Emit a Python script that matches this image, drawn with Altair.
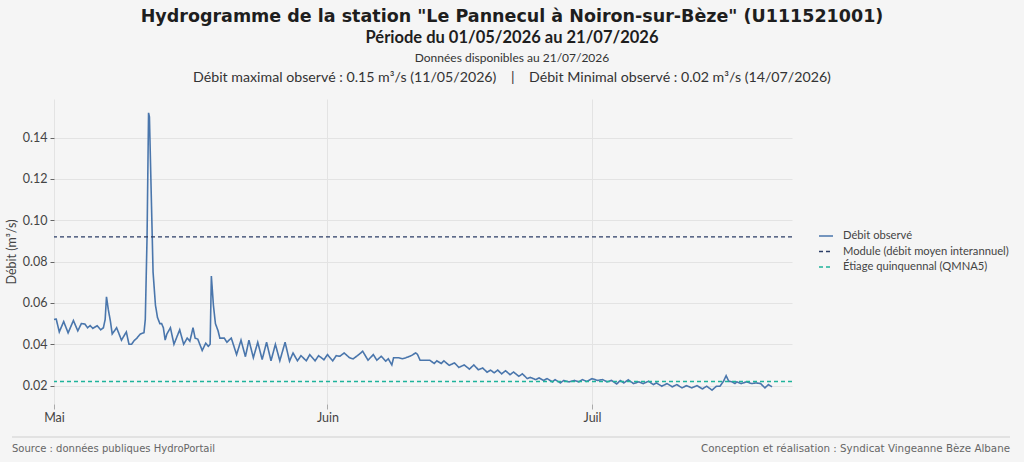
import altair as alt
import pandas as pd

# ---- data (day offset from 2026-05-01 00:00, discharge m3/s)
days = [0.0, 0.25, 0.6, 1.1, 1.6, 2.2, 2.7, 3.1, 3.5, 3.8, 4.1, 4.4, 4.9, 5.3, 5.6, 5.8, 5.95,
        6.15, 6.4, 6.6, 7.1, 7.65, 8.2, 8.5, 8.8, 9.05, 9.4, 9.8, 10.2, 10.35, 10.55, 10.72,
        10.82, 11.05, 11.23, 11.5, 11.73, 12.0, 12.2, 12.4, 12.6, 12.8, 13.2, 13.6, 14.25,
        14.7, 15.1, 15.4, 15.6, 15.76, 16.0, 16.3, 16.8, 17.2, 17.5, 17.7, 17.84, 18.07, 18.3,
        18.6, 18.8, 19.3, 19.6, 20.1, 20.7, 21.2, 21.7, 22.1, 22.6, 23.1, 23.6, 24.1, 24.6,
        25.1, 25.6, 26.2, 26.7, 27.1, 27.6, 28.0, 28.6, 29.0, 29.6, 30.0, 30.6, 31.0, 31.6,
        32.0, 32.4, 32.9, 33.5, 33.9, 34.4, 35.0, 35.6, 36.2, 36.6, 37.1, 37.6, 37.9, 38.3,
        38.5, 39.1, 39.5, 39.9, 40.5, 41.0, 41.2, 41.5, 42.2, 42.6, 43.1, 43.4, 43.9, 44.2,
        44.8, 45.4, 45.9, 46.5, 47.1, 47.6, 48.1, 48.6, 49.1, 49.5, 49.9, 50.3, 50.75, 51.2,
        51.7, 52.1, 52.7, 53.1, 53.65, 54.0, 54.6, 55.0, 55.5, 55.9, 56.5, 56.8, 57.4, 57.8,
        58.4, 59.0, 59.5, 59.9, 60.4, 61.0, 61.6, 62.2, 62.7, 63.2, 63.8, 64.2, 64.6, 65.1,
        65.7, 66.3, 66.8, 67.4, 67.95, 68.3, 68.9, 69.5, 70.1, 70.6, 71.2, 71.7, 72.3, 72.9,
        73.5, 74.0, 74.6, 75.1, 75.5, 75.9, 76.2, 76.5, 76.9, 77.2, 77.4, 77.9, 78.5, 79.1,
        79.6, 80.1, 80.6, 81.0, 81.4]
flow = [0.052, 0.0522, 0.046, 0.051, 0.0455, 0.0515, 0.0465, 0.050, 0.0498, 0.048, 0.049,
        0.0477, 0.049, 0.047, 0.048, 0.052, 0.063, 0.057, 0.051, 0.045, 0.048, 0.042, 0.046,
        0.040, 0.040, 0.0416, 0.043, 0.045, 0.0456, 0.052, 0.092, 0.152, 0.150, 0.108, 0.075,
        0.059, 0.053, 0.050, 0.050, 0.048, 0.042, 0.045, 0.048, 0.040, 0.047, 0.040, 0.043,
        0.0415, 0.045, 0.048, 0.043, 0.0425, 0.037, 0.0405, 0.039, 0.040, 0.073, 0.059, 0.050,
        0.0465, 0.043, 0.043, 0.041, 0.043, 0.035, 0.042, 0.034, 0.042, 0.0335, 0.041, 0.0326,
        0.041, 0.032, 0.040, 0.032, 0.041, 0.0318, 0.0358, 0.032, 0.0345, 0.032, 0.035, 0.032,
        0.0345, 0.0325, 0.035, 0.032, 0.0345, 0.0342, 0.0358, 0.0335, 0.0329, 0.0345, 0.0366,
        0.0323, 0.035, 0.0323, 0.0342, 0.0318, 0.033, 0.030, 0.0335, 0.0335, 0.033, 0.0335,
        0.0345, 0.0358, 0.0352, 0.0323, 0.0323, 0.0323, 0.0307, 0.032, 0.0307, 0.032, 0.0298,
        0.031, 0.0288, 0.030, 0.028, 0.030, 0.0277, 0.0285, 0.0265, 0.0275, 0.0262, 0.0275,
        0.0257, 0.0272, 0.0253, 0.0266, 0.0245, 0.0257, 0.0234, 0.024, 0.0229, 0.0237, 0.0225,
        0.0234, 0.0218, 0.0229, 0.0213, 0.0225, 0.0218, 0.0225, 0.0218, 0.0229, 0.022, 0.0234,
        0.0225, 0.0229, 0.0218, 0.0225, 0.0208, 0.0225, 0.0213, 0.0228, 0.021, 0.0218, 0.021,
        0.0221, 0.0205, 0.0213, 0.0197, 0.021, 0.0194, 0.0205, 0.0189, 0.0200, 0.0189, 0.0200,
        0.0184, 0.0197, 0.0178, 0.0197, 0.0197, 0.0221, 0.0248, 0.0221, 0.0218, 0.0210, 0.0218,
        0.0210, 0.0218, 0.0210, 0.0213, 0.0210, 0.0189, 0.0205, 0.0194]

module_value = 0.092
qmna5_value = 0.022

series_labels = ["Débit observé", "Module (débit moyen interannuel)", "Étiage quinquennal (QMNA5)"]
series_colors = ["#4a76ac", "#2b3d66", "#1fb39b"]
series_dashes = [[1, 0], [4, 3], [4, 3]]

NB = "\u00a0"
title_lines = [
    'Hydrogramme de la station "Le Pannecul à Noiron-sur-Bèze" (U111521001)',
    "Période du 01/05/2026 au 21/07/2026",
    "Données disponibles au 21/07/2026",
    "Débit maximal observé : 0.15 m³/s (11/05/2026)" + NB * 4 + "|" + NB * 4
    + "Débit Minimal observé : 0.02 m³/s (14/07/2026)",
]
footer_left = "Source : données publiques HydroPortail"
footer_right = "Conception et réalisation : Syndicat Vingeanne Bèze Albane"

FONT = "Lato"
TITLE_FONT = "DejaVu Sans"
W, H = 738, 305
LEFT, TOP = 54, 99

start = pd.Timestamp("2026-05-01 00:00")
times = start + pd.to_timedelta(days, unit="D")
obs = pd.DataFrame({"date": times.strftime("%Y-%m-%dT%H:%M:%S"), "debit": flow,
                    "serie": series_labels[0]})
refs = pd.DataFrame({"serie": series_labels[1:], "debit": [module_value, qmna5_value]})

color_scale = alt.Scale(domain=series_labels, range=series_colors)
dash_scale = alt.Scale(domain=series_labels, range=series_dashes)
legend = alt.Legend(title=None, orient="none", legendX=764, legendY=129,
                    symbolType="stroke", symbolSize=196, symbolStrokeWidth=1.6,
                    labelFont=FONT, labelFontSize=11.2, labelColor="#444", labelLimit=400,
                    labelOffset=9, rowPadding=1.5)

x_enc = alt.X("date:T", title="",
              scale=alt.Scale(domain=[alt.DateTime(year=2026, month=5, date=1),
                                      alt.DateTime(year=2026, month=7, date=23, hours=16)]),
              axis=alt.Axis(values=[alt.DateTime(year=2026, month=5, date=1),
                                    alt.DateTime(year=2026, month=6, date=1),
                                    alt.DateTime(year=2026, month=7, date=1)],
                            labelExpr="['Janv','Févr','Mars','Avr','Mai','Juin','Juil','Août','Sept','Oct','Nov','Déc'][month(datum.value)]",
                            grid=True, gridColor="#e3e3e3", domain=False, labelFlush=False,
                            tickColor="#aaa", tickSize=5, labelFont=FONT, labelFontSize=12.5,
                            labelColor="#444", labelPadding=2))
y_enc = alt.Y("debit:Q", title="Débit (m³/s)",
              scale=alt.Scale(domain=[0.0111, 0.1587], nice=False, zero=False),
              axis=alt.Axis(values=[0.02, 0.04, 0.06, 0.08, 0.10, 0.12, 0.14], format=".2f",
                            grid=True, gridColor="#e3e3e3", domain=False,
                            tickColor="#666", tickSize=4, labelFont=FONT, labelFontSize=12.5,
                            labelColor="#444", labelPadding=3, titleFont=FONT,
                            titleFontSize=12.5, titleFontWeight="normal", titleColor="#444",
                            titlePadding=4))

line = alt.Chart(obs).mark_line(strokeWidth=1.6).encode(
    x=x_enc, y=y_enc,
    color=alt.Color("serie:N", scale=color_scale, legend=legend),
    strokeDash=alt.StrokeDash("serie:N", scale=dash_scale, legend=legend),
)
rules = alt.Chart(refs).mark_rule(strokeWidth=1.4).encode(
    y=alt.Y("debit:Q"),
    color=alt.Color("serie:N", scale=color_scale, legend=legend),
    strokeDash=alt.StrokeDash("serie:N", scale=dash_scale, legend=legend),
)


def text_layer(txt, x, y, size, weight="normal", align="center", color="#333", font=FONT):
    return alt.Chart(pd.DataFrame({"t": [txt]})).mark_text(
        font=font, fontSize=size, fontWeight=weight, align=align, baseline="middle",
        color=color).encode(text="t:N", x=alt.value(x), y=alt.value(y))


cx = 512 - LEFT
t1 = text_layer(title_lines[0], cx, 17 - TOP, 17.5, "bold", color="#1e1e1e", font=TITLE_FONT)
t2 = text_layer(title_lines[1], cx, 38 - TOP, 16.5, "bold", color="#1e1e1e")
t3 = text_layer(title_lines[2], cx, 58 - TOP, 12, color="#333")
t4 = text_layer(title_lines[3], cx, 78 - TOP, 14.2, color="#333")
f1 = text_layer(footer_left, 12 - LEFT, 449 - TOP, 10, align="left", color="#666", font="DejaVu Sans")
f2 = text_layer(footer_right, 1010 - LEFT, 449 - TOP, 10.3, align="right", color="#666", font="DejaVu Sans")
sep = alt.Chart(pd.DataFrame({"a": [0]})).mark_rule(color="#cfcfcf", strokeWidth=1).encode(
    x=alt.value(12 - LEFT), x2=alt.value(1010 - LEFT), y=alt.value(437 - TOP))

chart = alt.layer(line, rules, t1, t2, t3, t4, f1, f2, sep).resolve_scale(
    color="shared", strokeDash="shared"
).properties(
    width=W, height=H,
    autosize=alt.AutoSizeParams(type="none"),
    padding={"left": LEFT, "top": TOP, "right": 1024 - LEFT - W, "bottom": 462 - TOP - H},
    background="#f5f5f5",
).configure_view(strokeWidth=0)

chart.save("out.html", embed_options={"renderer": "svg", "actions": False})
